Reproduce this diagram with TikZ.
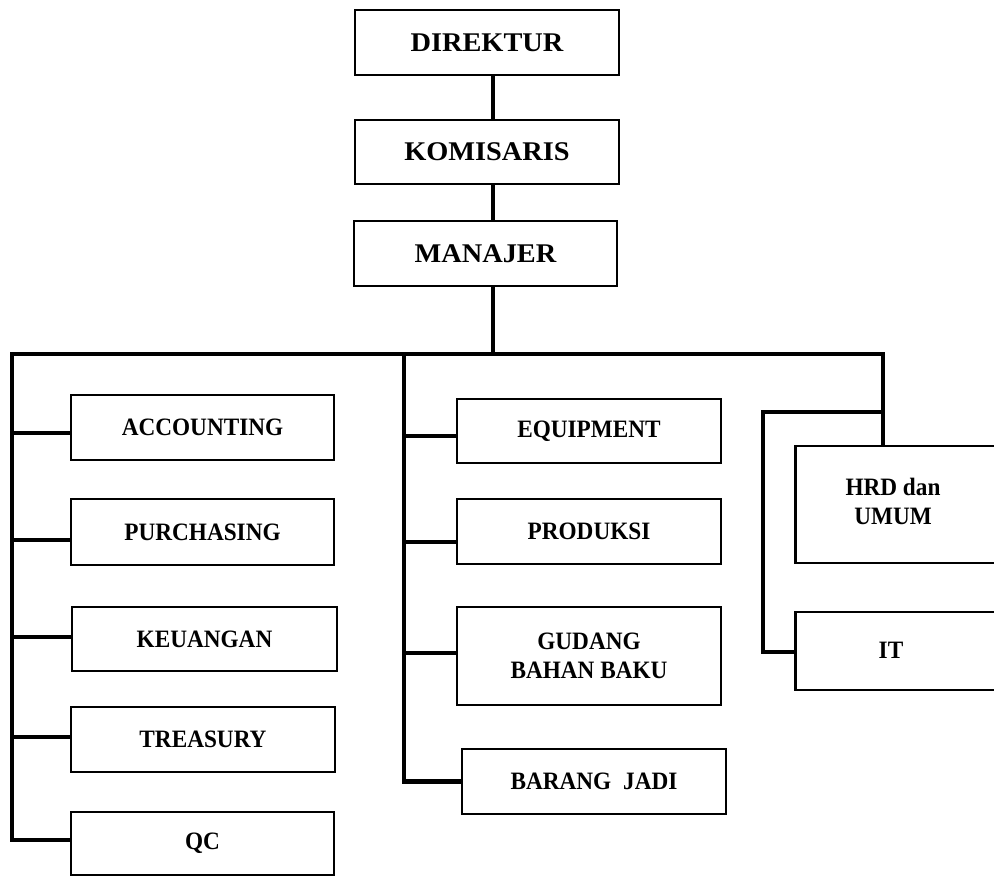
\documentclass[tikz,border=0pt]{standalone}
\usepackage{fontspec}
\setmainfont{Liberation Serif}
\newfontfamily\topfont[FakeStretch=1.05]{Liberation Serif}
\newfontfamily\lowfont[FakeStretch=0.93]{Liberation Serif}
\tikzset{
  box/.style={draw, line width=2.7pt, minimum width=264pt, inner sep=0pt,
    align=center, font=\lowfont\bfseries\fontsize{25}{29}\selectfont},
  topbox/.style={box, font=\topfont\bfseries\fontsize{27}{30}\selectfont},
  lbl/.style={inner sep=0pt, align=center, font=\lowfont\bfseries\fontsize{25}{29}\selectfont},
  conn/.style={line width=4.2pt, line join=miter}
}
\begin{document}
\begin{tikzpicture}[x=1pt,y=-1pt]
\useasboundingbox (0,0) rectangle (994,878);
\clip (0,0) rectangle (994,878);
\fill[white] (0,0) rectangle (994,878);

% top chain
\node[topbox, minimum height=65pt] (direktur) at (487,42.5) {DIREKTUR};
\node[topbox, minimum height=64pt] (komisaris) at (487,152) {KOMISARIS};
\node[topbox, minimum width=263pt, minimum height=65pt] (manajer) at (485.5,253.5) {MANAJER};

% bus coordinates
\coordinate (bus) at (493,354);
\coordinate (lc) at (12,354);
\coordinate (mc) at (404,354);
\coordinate (rc) at (883,354);
\coordinate (rb) at (883,412);
\coordinate (itc) at (763,412);

% left column
\node[box, minimum width=263pt, minimum height=65pt] (acc) at (202.5,427.5) {ACCOUNTING};
\node[box, minimum width=263pt, minimum height=66pt] (pur) at (202.5,532) {PURCHASING};
\node[box, minimum width=265pt, minimum height=64pt] (keu) at (204.5,639) {KEUANGAN};
\node[box, minimum height=65pt] (tre) at (203,739.5) {TREASURY};
\node[box, minimum width=263pt, minimum height=63pt] (qc) at (202.5,843.5) {QC};

% middle column
\node[box, minimum height=64pt] (equ) at (589,431) {EQUIPMENT};
\node[box, minimum height=65pt] (pro) at (589,531.5) {PRODUKSI};
\node[box, minimum height=98pt] (gud) at (589,656) {GUDANG\\BAHAN BAKU};
\node[box, minimum height=65pt] (bar) at (594,781.5) {BARANG\hspace{6pt} JADI};

% right column (boxes run past the right edge)
\node[box, minimum width=214pt, minimum height=117pt] (hrdbox) at (902.5,504.5) {};
\node[box, minimum width=214pt, minimum height=78pt] (itbox) at (902.5,651) {};
\node[lbl] (hrd) at (893,501) {HRD dan\\UMUM};
\node[lbl] (it) at (891,650) {IT};

% connectors
\draw[conn] ([xshift=6pt]direktur.south) -- ([xshift=6pt]komisaris.north);
\draw[conn] ([xshift=6pt]komisaris.south) -- ([xshift=7.5pt]manajer.north);
\draw[conn] ([xshift=7.5pt]manajer.south) -- (bus);
\draw[conn] ([yshift=3.5pt]qc.west) -| (lc) -- (rc) -- (rc |- hrdbox.north);
\draw[conn] (bar.west) -| (mc);
\draw[conn] (rb) -- (itc) |- ([yshift=-1pt]itbox.west);

\draw[conn] ([yshift=-5.5pt]acc.west) -- ([yshift=-5.5pt]acc.west -| lc);
\draw[conn] ([yshift=-8pt]pur.west) -- ([yshift=-8pt]pur.west -| lc);
\draw[conn] ([yshift=2pt]keu.west) -- ([yshift=2pt]keu.west -| lc);
\draw[conn] ([yshift=2.5pt]tre.west) -- ([yshift=2.5pt]tre.west -| lc);

\draw[conn] ([yshift=-5pt]equ.west) -- ([yshift=-5pt]equ.west -| mc);
\draw[conn] ([yshift=-10.5pt]pro.west) -- ([yshift=-10.5pt]pro.west -| mc);
\draw[conn] ([yshift=3pt]gud.west) -- ([yshift=3pt]gud.west -| mc);
\end{tikzpicture}
\end{document}
